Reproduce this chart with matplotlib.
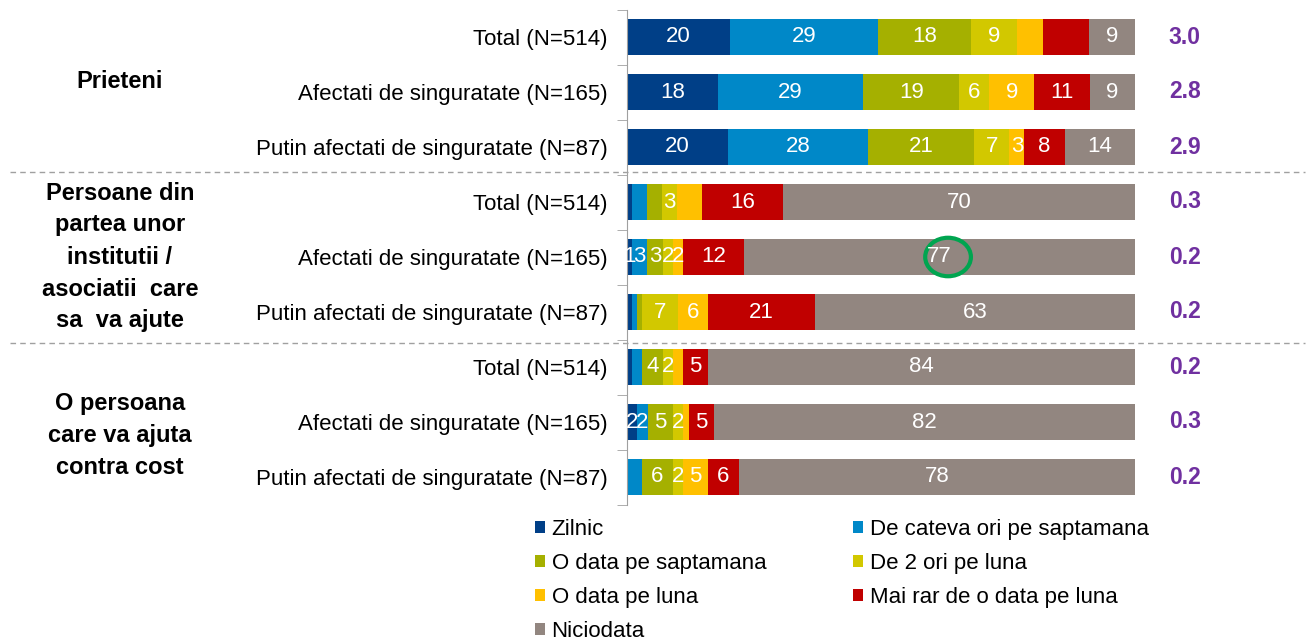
import matplotlib
matplotlib.use("Agg")
import matplotlib.pyplot as plt
import numpy as np
from matplotlib.patches import Ellipse
from matplotlib.transforms import blended_transform_factory

# data
rows = ["Total (N=514)", "Afectati de singuratate (N=165)", "Putin afectati de singuratate (N=87)"] * 3
groups = ["Prieteni",
          "Persoane din\npartea unor\ninstitutii /\nasociatii  care\nsa  va ajute",
          "O persoana\ncare va ajuta\ncontra cost"]
series = ["Zilnic", "De cateva ori pe saptamana", "O data pe saptamana", "De 2 ori pe luna",
          "O data pe luna", "Mai rar de o data pe luna", "Niciodata"]
colors = ["#003f87", "#0088c8", "#a5b000", "#d2c800", "#ffc000", "#c00000", "#928680"]

values = np.array([
    [20, 29, 18, 9, 5, 9, 9],
    [18, 29, 19, 6, 9, 11, 9],
    [20, 28, 21, 7, 3, 8, 14],
    [1, 3, 3, 3, 5, 16, 70],
    [1, 3, 3, 2, 2, 12, 77],
    [1, 1, 1, 7, 6, 21, 63],
    [1, 2, 4, 2, 2, 5, 84],
    [2, 2, 5, 2, 1, 5, 82],
    [0, 3, 6, 2, 5, 6, 78],
])
# which numbers are printed on the bars
labels = [
    ["20", "29", "18", "9", "", "", "9"],
    ["18", "29", "19", "6", "9", "11", "9"],
    ["20", "28", "21", "7", "3", "8", "14"],
    ["", "", "", "3", "", "16", "70"],
    ["1", "3", "3", "2", "2", "12", "77"],
    ["", "", "", "7", "6", "21", "63"],
    ["", "", "4", "2", "", "5", "84"],
    ["2", "2", "5", "2", "", "5", "82"],
    ["", "", "6", "2", "5", "6", "78"],
]
means = ["3.0", "2.8", "2.9", "0.3", "0.2", "0.2", "0.2", "0.3", "0.2"]

plt.rcParams["font.family"] = ["Liberation Sans", "DejaVu Sans"]

# bars fill the full width (rounded values don't always add to 100)
shares = values / values.sum(axis=1, keepdims=True) * 100

fig = plt.figure(figsize=(13.06, 6.4), dpi=100)
ax = fig.add_axes([627 / 1306, 1 - 504.5 / 640, 508 / 1306, 495 / 640])

y = np.arange(len(rows))
left = np.zeros(len(rows))
handles = []
for j, name in enumerate(series):
    b = ax.barh(y, shares[:, j], left=left, height=0.66, color=colors[j], label=name, linewidth=0)
    handles.append(b)
    for i in range(len(rows)):
        if labels[i][j]:
            ax.text(left[i] + shares[i, j] / 2, y[i], labels[i][j], ha="center", va="center",
                    color="white", fontsize=16)
    left += shares[:, j]

ax.set_xlim(0, 100)
ax.set_ylim(8.5, -0.5)
ax.set_xticks([])
ax.set_yticks(y)
ax.set_yticklabels(rows, fontsize=16)
ax.tick_params(axis="y", which="major", length=0, pad=14)
ax.set_yticks(np.arange(-0.5, 9, 1), minor=True)
ax.tick_params(axis="y", which="minor", length=7, color="#a0a0a0")
for s in ["top", "right", "bottom"]:
    ax.spines[s].set_visible(False)
ax.spines["left"].set_color("#a0a0a0")

# mean score column
for i, m in enumerate(means):
    ax.text(109.8, y[i], m, ha="center", va="center", color="#7030a0",
            fontsize=16.5, fontweight="bold", clip_on=False)

# group labels
group_y = [0.8, 4.0, 7.25]
tr = blended_transform_factory(fig.transFigure, ax.transData)
for g, gy in zip(groups, group_y):
    ax.text(120 / 1306, gy, g, transform=tr, ha="center", va="center",
            fontsize=17, fontweight="bold", linespacing=1.5)

# dashed separators
for sy in [2.45, 5.57]:
    ax.plot([10 / 1306, 1305 / 1306], [sy, sy], transform=tr, color="#a0a0a0",
            linestyle=(0, (4, 3)), linewidth=1, clip_on=False)

# highlight circle
ax.add_patch(Ellipse((63.2, 4), 9, 0.7, fill=False, edgecolor="#00a550", linewidth=3))

order = [0, 2, 4, 6, 1, 3, 5]
fig.legend([handles[k] for k in order], [series[k] for k in order], ncol=2,
           loc="upper left", bbox_to_anchor=(526 / 1306, 1 - 510 / 640), frameon=False,
           prop={"size": 16}, handlelength=0.45, handleheight=0.45,
           handletextpad=0.3, columnspacing=3.9, labelspacing=0.58, borderaxespad=0)

fig.savefig("out.png", dpi=100)
